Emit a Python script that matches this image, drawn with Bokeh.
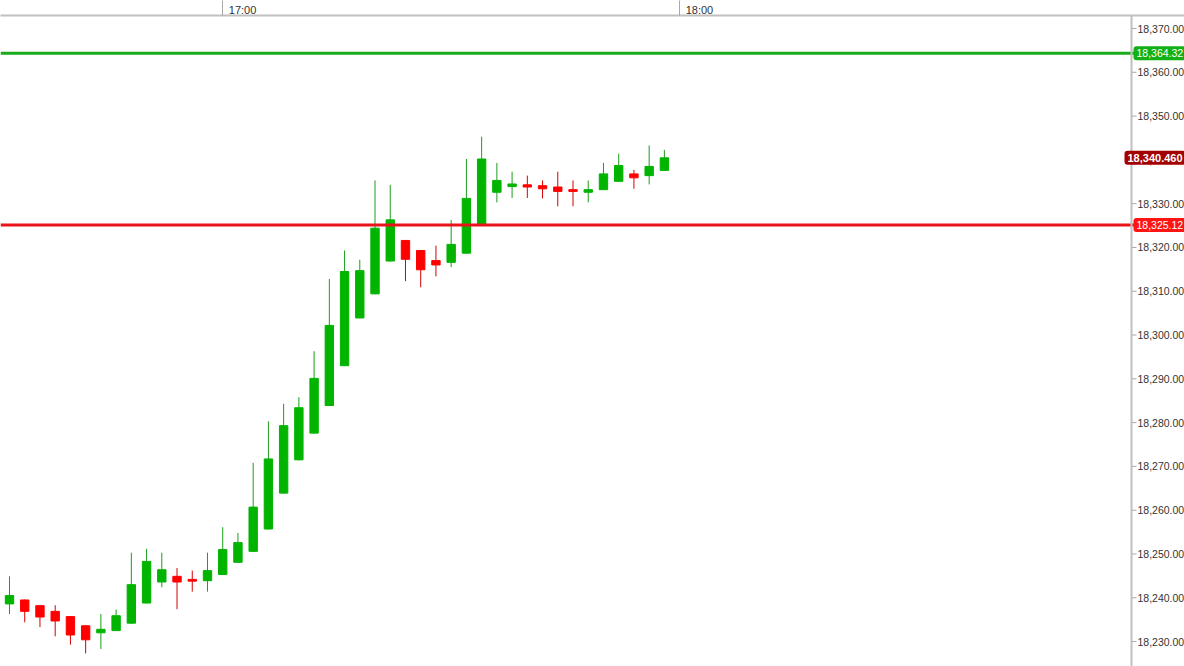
from bokeh.plotting import figure
from bokeh.models import Range1d, FixedTicker, Span, ColumnDataSource
from bokeh.core.properties import value
from bokeh.embed import file_html
from bokeh.resources import INLINE

# ---- data (2-minute candles, 16:32 .. 17:58) ----
times = ["16:32", "16:34", "16:36", "16:38", "16:40", "16:42", "16:44", "16:46", "16:48", "16:50",
         "16:52", "16:54", "16:56", "16:58", "17:00", "17:02", "17:04", "17:06", "17:08", "17:10",
         "17:12", "17:14", "17:16", "17:18", "17:20", "17:22", "17:24", "17:26", "17:28", "17:30",
         "17:32", "17:34", "17:36", "17:38", "17:40", "17:42", "17:44", "17:46", "17:48", "17:50",
         "17:52", "17:54", "17:56", "17:58"]
opens = [18238.6, 18239.5, 18238.2, 18236.9, 18235.7, 18233.6, 18232.0, 18232.5, 18234.2, 18238.8,
         18243.6, 18244.9, 18244.2, 18243.9, 18245.3, 18248.1, 18250.6, 18255.7, 18263.9, 18271.5,
         18277.6, 18283.9, 18293.0, 18303.9, 18309.4, 18316.9, 18321.6, 18319.3, 18317.0, 18316.6,
         18318.7, 18325.2, 18332.6, 18333.9, 18334.3, 18334.1, 18333.8, 18333.2, 18332.6, 18333.2,
         18335.1, 18336.8, 18336.4, 18337.6]
highs = [18244.9, 18239.6, 18238.3, 18238.3, 18235.8, 18233.7, 18236.3, 18237.3, 18250.3, 18251.2,
         18250.3, 18246.8, 18246.2, 18250.3, 18256.1, 18254.8, 18270.8, 18280.3, 18284.3, 18285.8,
         18296.3, 18312.8, 18319.3, 18317.2, 18335.3, 18334.3, 18321.7, 18319.4, 18320.4, 18326.3,
         18340.2, 18345.3, 18339.3, 18337.3, 18336.4, 18335.3, 18337.3, 18335.3, 18335.3, 18339.3,
         18341.4, 18337.7, 18343.3, 18342.3]
lows = [18236.3, 18234.4, 18233.3, 18231.2, 18229.3, 18227.3, 18228.3, 18232.4, 18234.1, 18238.7,
        18242.4, 18237.4, 18241.4, 18241.4, 18245.2, 18248.0, 18250.5, 18255.6, 18263.8, 18271.4,
        18277.5, 18283.8, 18292.9, 18303.8, 18309.3, 18316.8, 18312.3, 18310.9, 18313.4, 18315.5,
        18318.6, 18325.1, 18330.3, 18331.3, 18331.3, 18331.2, 18329.4, 18329.4, 18330.3, 18333.1,
        18335.0, 18333.4, 18334.4, 18337.5]
closes = [18240.5, 18236.9, 18235.6, 18234.7, 18231.5, 18230.4, 18232.8, 18235.9, 18243.0, 18248.3,
          18246.4, 18243.6, 18243.8, 18246.2, 18251.0, 18252.6, 18260.7, 18271.7, 18279.3, 18283.4,
          18290.1, 18302.2, 18314.5, 18314.7, 18324.4, 18326.3, 18317.3, 18314.9, 18316.0, 18320.7,
          18331.2, 18340.2, 18335.3, 18334.5, 18333.8, 18333.4, 18332.8, 18332.8, 18333.2, 18336.8,
          18338.7, 18335.9, 18338.5, 18340.46]
axis_tick_positions = [14, 44]
axis_tick_labels = ["17:00", "18:00"]
price_ticks = [18230, 18240, 18250, 18260, 18270, 18280, 18290, 18300, 18310, 18320,
               18330, 18340, 18350, 18360, 18370]
resistance_level = 18364.32
support_level = 18325.12
last_price = 18340.46

GREEN = "#00b400"
GREEN_WICK = "#1c9e1c"
RED = "#ff0000"
RED_WICK = "#d20000"

idx = list(range(len(times)))
up = [c >= o for o, c in zip(opens, closes)]
src = ColumnDataSource(dict(
    x=idx, o=opens, h=highs, l=lows, c=closes,
    top=[max(o, c) for o, c in zip(opens, closes)],
    bot=[min(o, c) for o, c in zip(opens, closes)],
    fill=[GREEN if u else RED for u in up],
    wick=[GREEN_WICK if u else RED_WICK for u in up],
))

W, H = 1184, 666
TB = 15           # top border (time axis)
step = 15.23      # px per candle
x0px = 9.0        # pixel of candle 0
xs = -x0px / step
xe = xs + W / step
ppu = 4.379       # px per price unit
frame_h = H - TB
ytop = 18370 + (28 - TB) / ppu
ybot = ytop - frame_h / ppu

def px_to_x(px):
    return xs + px / step

AXIS_PX = 1131    # price scale line

p = figure(width=W, height=H, output_backend="svg", toolbar_location=None,
           x_axis_location="above", y_axis_location=None,
           x_range=Range1d(xs, xe), y_range=Range1d(ybot, ytop),
           min_border_left=0, min_border_bottom=0, min_border_top=TB, min_border_right=0)
p.grid.visible = False
p.outline_line_color = None
p.background_fill_color = "white"
p.border_fill_color = "white"

# candles
p.segment(x0="x", y0="l", x1="x", y1="h", line_color="wick", line_width=1, source=src)
p.vbar(x="x", width=0.55, top="top", bottom="bot", fill_color="fill", line_color="fill",
       line_width=1, source=src)

# horizontal levels
p.add_layout(Span(location=resistance_level, dimension="width", line_color="#18aa18", line_width=3))
p.add_layout(Span(location=support_level, dimension="width", line_color="#e8141a", line_width=3))

# time axis (top)
xa = p.xaxis[0]
xa.ticker = FixedTicker(ticks=axis_tick_positions)
pad = "\u00a0" * 13
xa.major_label_overrides = {t: pad + s for t, s in zip(axis_tick_positions, axis_tick_labels)}
xa.major_label_orientation = "horizontal"
xa.axis_line_color = "#c0c0c0"
xa.axis_line_width = 2
xa.major_tick_line_color = "#a8a8a8"
xa.major_tick_in = 0
xa.major_tick_out = 15
xa.minor_tick_line_color = None
xa.major_label_standoff = -15
xa.major_label_text_font = "Liberation Sans"
xa.major_label_text_font_size = "11px"
xa.major_label_text_color = "#333333"

# price scale (right)
ax_x = px_to_x(AXIS_PX)
p.add_layout(Span(location=ax_x, dimension="height", line_color="#c0c0c0", line_width=2))
tick_src = ColumnDataSource(dict(
    y=price_ticks,
    x0=[ax_x] * len(price_ticks),
    x1=[px_to_x(AXIS_PX + 5)] * len(price_ticks),
    xt=[px_to_x(AXIS_PX + 6)] * len(price_ticks),
    txt=["{:,.2f}".format(v) for v in price_ticks],
))
p.segment(x0="x0", y0="y", x1="x1", y1="y", line_color="#a8a8a8", line_width=1, source=tick_src)
p.text(x="xt", y="y", text="txt", text_font=value("Liberation Sans"), text_font_size="10.5px",
       text_color="#333333", text_baseline="middle", text_align="left", source=tick_src)

# price markers on the scale (drawn above the level lines)
lab_src = ColumnDataSource(dict(
    x=[px_to_x(AXIS_PX + 2), px_to_x(AXIS_PX + 2)],
    y=[resistance_level, support_level],
    txt=["{:,.2f}".format(resistance_level), "{:,.2f}".format(support_level)],
    bg=["#12b012", "#ff1414"],
))
p.text(x="x", y="y", text="txt", text_font=value("Liberation Sans"), text_font_size="10.5px",
       text_color="white", text_baseline="middle", text_align="left",
       background_fill_color="bg", border_radius=3, padding=3, source=lab_src, level="overlay")
p.text(x=[px_to_x(AXIS_PX - 7)], y=[last_price], text=["{:,.3f}".format(last_price)],
       text_font=value("Liberation Sans"), text_font_size="11px", text_font_style="bold",
       text_color="white", text_baseline="middle", text_align="left",
       background_fill_color="#a30000", border_radius=3, padding=3, level="overlay")

html = file_html(p, INLINE)
html = html.replace("<head>", "<head><style>html,body{margin:0;padding:0;overflow:hidden;}</style>", 1)
open("out.html", "w").write(html)
